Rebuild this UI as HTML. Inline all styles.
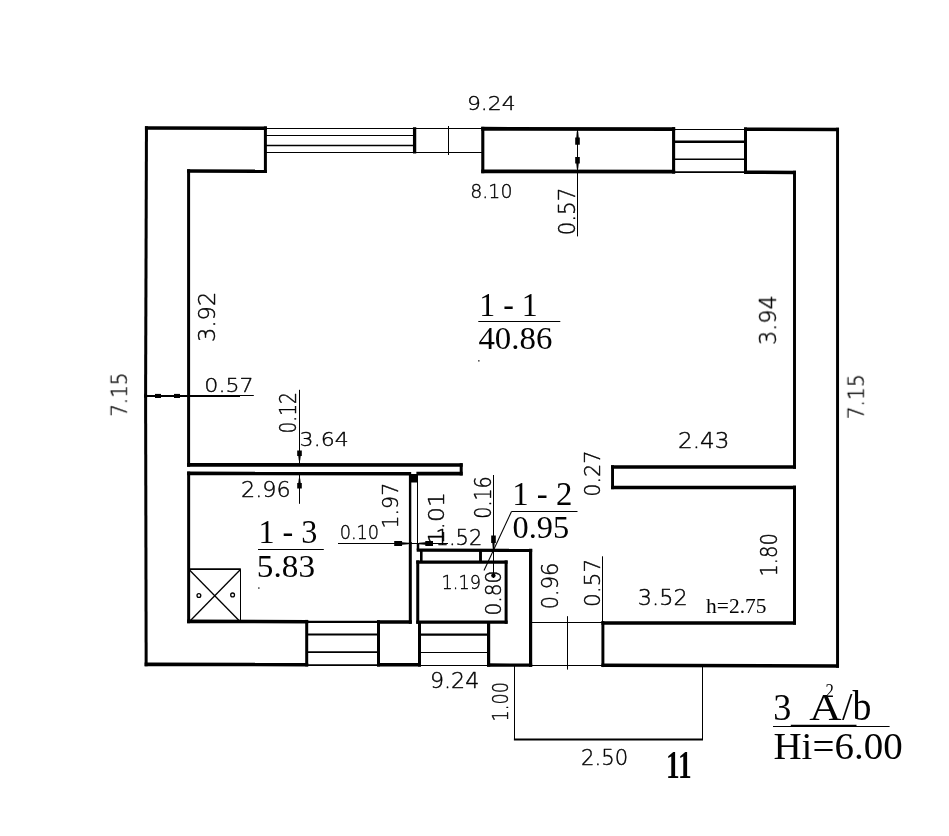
<!DOCTYPE html>
<html><head><meta charset="utf-8"><title>Plan</title>
<style>
html,body{margin:0;padding:0;background:#fff;}
body{width:949px;height:836px;overflow:hidden;}
svg{display:block;}
#walls{stroke:#000;fill:none;stroke-linecap:butt;stroke-linejoin:miter;}
text{fill:#000;stroke:none;}
.sans{font-family:"DejaVu Sans Light","DejaVu Sans","Liberation Sans",sans-serif;font-weight:200;stroke:#000;stroke-width:0.4px;stroke-linejoin:round;}
.serif{font-family:"Liberation Serif","DejaVu Serif",serif;font-weight:400;}
.serifb{font-family:"Liberation Serif","DejaVu Serif",serif;font-weight:700;}
</style></head><body>
<svg width="949" height="836" viewBox="0 0 949 836">
<rect x="0" y="0" width="949" height="836" fill="#fff" stroke="none"/>
<g id="walls">
<line x1="416.40" y1="473.60" x2="462.70" y2="473.60" stroke-width="3.6"/>
<line x1="461.20" y1="475.40" x2="461.20" y2="463.15" stroke-width="3.0"/>
<line x1="462.70" y1="464.95" x2="187.10" y2="464.90" stroke-width="3.6"/>
<line x1="188.60" y1="466.70" x2="188.60" y2="169.25" stroke-width="3.0"/>
<line x1="187.10" y1="171.05" x2="266.90" y2="171.20" stroke-width="3.6"/>
<line x1="265.40" y1="173.00" x2="265.40" y2="126.45" stroke-width="3.0"/>
<line x1="266.90" y1="128.25" x2="144.95" y2="128.00" stroke-width="3.6"/>
<line x1="146.46" y1="126.20" x2="145.59" y2="397.80" stroke-width="3.0"/>
<line x1="145.60" y1="394.20" x2="146.15" y2="666.20" stroke-width="3.0"/>
<line x1="144.65" y1="664.40" x2="308.20" y2="664.60" stroke-width="3.6"/>
<line x1="306.70" y1="666.40" x2="306.70" y2="619.90" stroke-width="3.0"/>
<line x1="308.20" y1="621.70" x2="187.15" y2="621.40" stroke-width="3.6"/>
<line x1="188.65" y1="623.20" x2="188.65" y2="471.60" stroke-width="3.0"/>
<line x1="187.15" y1="473.40" x2="411.20" y2="473.60" stroke-width="3.6"/>
<line x1="410.10" y1="474.00" x2="410.10" y2="543.00" stroke-width="2.4"/>
<line x1="410.30" y1="542.00" x2="410.30" y2="623.80" stroke-width="3.0"/>
<line x1="411.80" y1="622.00" x2="377.00" y2="622.00" stroke-width="3.6"/>
<line x1="378.50" y1="620.20" x2="378.50" y2="666.50" stroke-width="3.0"/>
<line x1="377.00" y1="664.70" x2="421.00" y2="664.80" stroke-width="3.6"/>
<line x1="419.50" y1="666.60" x2="419.50" y2="622.10" stroke-width="3.0"/>
<line x1="481.25" y1="128.75" x2="675.15" y2="129.05" stroke-width="3.8"/>
<line x1="673.60" y1="127.15" x2="673.60" y2="173.60" stroke-width="3.1"/>
<line x1="675.15" y1="171.70" x2="481.25" y2="171.30" stroke-width="3.8"/>
<line x1="482.80" y1="173.20" x2="482.80" y2="126.85" stroke-width="3.1"/>
<line x1="745.50" y1="173.95" x2="745.50" y2="127.45" stroke-width="2.95"/>
<line x1="744.03" y1="129.20" x2="839.02" y2="129.40" stroke-width="3.5"/>
<line x1="837.55" y1="127.65" x2="837.55" y2="667.65" stroke-width="2.95"/>
<line x1="839.02" y1="665.90" x2="601.43" y2="665.30" stroke-width="3.5"/>
<line x1="602.90" y1="667.05" x2="602.90" y2="621.15" stroke-width="2.95"/>
<line x1="601.42" y1="622.90" x2="795.98" y2="622.90" stroke-width="3.5"/>
<line x1="794.50" y1="624.65" x2="794.50" y2="485.65" stroke-width="2.95"/>
<line x1="795.98" y1="487.40" x2="611.07" y2="487.40" stroke-width="3.5"/>
<line x1="612.55" y1="489.15" x2="612.55" y2="465.25" stroke-width="2.95"/>
<line x1="611.07" y1="467.00" x2="795.98" y2="467.00" stroke-width="3.5"/>
<line x1="794.50" y1="468.75" x2="794.50" y2="170.70" stroke-width="2.95"/>
<line x1="795.97" y1="172.46" x2="744.03" y2="172.19" stroke-width="3.5"/>
<line x1="416.70" y1="550.20" x2="532.20" y2="550.40" stroke-width="3.3"/>
<line x1="530.60" y1="548.75" x2="530.60" y2="666.85" stroke-width="3.2"/>
<line x1="532.20" y1="665.21" x2="487.00" y2="664.99" stroke-width="3.3"/>
<line x1="488.60" y1="666.65" x2="488.60" y2="622.10" stroke-width="3.2"/>
<line x1="416.25" y1="562.10" x2="507.60" y2="562.10" stroke-width="3.4"/>
<line x1="506.10" y1="560.40" x2="506.10" y2="623.80" stroke-width="3.0"/>
<line x1="507.60" y1="622.10" x2="416.25" y2="622.10" stroke-width="3.4"/>
<line x1="417.75" y1="623.80" x2="417.75" y2="560.40" stroke-width="3.0"/>
<line x1="418.00" y1="543.00" x2="418.00" y2="550.20" stroke-width="2.5"/>
<line x1="421.30" y1="550.00" x2="421.30" y2="562.00" stroke-width="2.6" />
<line x1="480.50" y1="550.00" x2="480.50" y2="562.00" stroke-width="2.9" />
<line x1="417.50" y1="474.00" x2="417.50" y2="550.00" stroke-width="1" />
<rect x="409" y="474" width="9" height="8.5" fill="#000" stroke="none"/>
<line x1="265.50" y1="128.50" x2="414.50" y2="128.50" stroke-width="1" />
<line x1="265.50" y1="135.50" x2="414.50" y2="135.50" stroke-width="1" />
<line x1="265.50" y1="145.50" x2="414.50" y2="145.50" stroke-width="1.4" />
<line x1="265.50" y1="152.50" x2="414.50" y2="152.50" stroke-width="1" />
<line x1="414.60" y1="127.20" x2="414.60" y2="153.50" stroke-width="3.3" />
<line x1="414.50" y1="128.50" x2="483.00" y2="128.50" stroke-width="1" />
<line x1="414.50" y1="152.50" x2="483.00" y2="152.50" stroke-width="1" />
<line x1="448.50" y1="126.00" x2="448.50" y2="155.00" stroke-width="1" />
<line x1="673.50" y1="129.50" x2="745.50" y2="129.50" stroke-width="1" />
<line x1="673.50" y1="141.75" x2="745.50" y2="141.75" stroke-width="2.3" />
<line x1="673.50" y1="159.30" x2="745.50" y2="159.30" stroke-width="1.6" />
<line x1="673.50" y1="172.10" x2="745.50" y2="172.10" stroke-width="1.8" />
<line x1="306.70" y1="621.80" x2="378.50" y2="621.80" stroke-width="2.2" />
<line x1="306.70" y1="634.50" x2="378.50" y2="634.50" stroke-width="1.8" />
<line x1="306.70" y1="652.20" x2="378.50" y2="652.20" stroke-width="1.8" />
<line x1="306.70" y1="665.20" x2="378.50" y2="665.20" stroke-width="1.8" />
<line x1="419.50" y1="634.70" x2="488.60" y2="634.70" stroke-width="2.2" />
<line x1="419.50" y1="652.50" x2="488.60" y2="652.50" stroke-width="1" />
<line x1="419.50" y1="665.50" x2="488.60" y2="665.50" stroke-width="1" />
<line x1="530.50" y1="622.50" x2="602.90" y2="622.50" stroke-width="1" />
<line x1="530.50" y1="665.50" x2="602.90" y2="665.50" stroke-width="1" />
<line x1="567.50" y1="616.20" x2="567.50" y2="669.60" stroke-width="1" />
<line x1="514.50" y1="666.00" x2="514.50" y2="739.50" stroke-width="1" />
<line x1="513.90" y1="739.50" x2="703.00" y2="739.50" stroke-width="1.8" />
<line x1="702.50" y1="666.00" x2="702.50" y2="739.50" stroke-width="1" />
<line x1="146.30" y1="395.50" x2="253.80" y2="395.50" stroke-width="1" />
<line x1="145.50" y1="395.90" x2="240.00" y2="395.90" stroke-width="2.0" />
<line x1="155.00" y1="395.95" x2="161.00" y2="395.95" stroke-width="4.1" />
<line x1="174.00" y1="395.95" x2="180.00" y2="395.95" stroke-width="4.1" />
<line x1="299.50" y1="389.80" x2="299.50" y2="463.50" stroke-width="1" />
<polygon points="300.20,460.50 300.70,456.00 301.80,456.00 301.80,450.50 297.20,450.50 297.20,456.00 298.30,456.00 298.80,460.50" fill="#000" stroke="none"/>
<line x1="299.50" y1="475.00" x2="299.50" y2="503.80" stroke-width="1" />
<polygon points="298.80,478.50 298.30,483.00 297.20,483.00 297.20,488.50 301.80,488.50 301.80,483.00 300.70,483.00 300.20,478.50" fill="#000" stroke="none"/>
<line x1="577.50" y1="128.00" x2="577.50" y2="236.40" stroke-width="1" />
<polygon points="576.80,131.50 576.30,137.49 575.20,137.49 575.20,144.80 579.80,144.80 579.80,137.49 578.70,137.49 578.20,131.50" fill="#000" stroke="none"/>
<polygon points="578.20,168.80 578.70,163.49 579.80,163.49 579.80,157.00 575.20,157.00 575.20,163.49 576.30,163.49 576.80,168.80" fill="#000" stroke="none"/>
<line x1="338.00" y1="543.50" x2="448.00" y2="543.50" stroke-width="1" />
<polygon points="408.50,542.80 402.06,542.30 402.06,541.00 394.20,541.00 394.20,546.00 402.06,546.00 402.06,544.70 408.50,544.20" fill="#000" stroke="none"/>
<polygon points="419.00,544.20 425.30,544.70 425.30,546.00 433.00,546.00 433.00,541.00 425.30,541.00 425.30,542.30 419.00,542.80" fill="#000" stroke="none"/>
<line x1="493.50" y1="475.00" x2="493.50" y2="578.00" stroke-width="1" />
<polygon points="494.20,549.00 494.70,542.88 495.80,542.88 495.80,535.40 491.20,535.40 491.20,542.88 492.30,542.88 492.80,549.00" fill="#000" stroke="none"/>
<circle cx="493.4" cy="575.5" r="2.2" fill="#000" stroke="none"/>
<line x1="602.50" y1="556.30" x2="602.50" y2="622.00" stroke-width="1" />
<line x1="511.40" y1="511.70" x2="484.00" y2="570.60" stroke-width="1.1" />
<line x1="478.30" y1="321.50" x2="560.30" y2="321.50" stroke-width="1" />
<line x1="258.00" y1="549.50" x2="323.80" y2="549.50" stroke-width="1" />
<line x1="511.30" y1="511.50" x2="577.50" y2="511.50" stroke-width="1" />
<line x1="773.00" y1="726.50" x2="889.60" y2="726.50" stroke-width="1" />
<line x1="790.80" y1="725.40" x2="856.50" y2="725.40" stroke-width="1.5" />
<line x1="188.60" y1="569.20" x2="240.80" y2="569.20" stroke-width="1.7" />
<line x1="240.50" y1="569.20" x2="240.50" y2="622.00" stroke-width="1" />
<line x1="189.50" y1="570.00" x2="240.00" y2="621.50" stroke-width="1.3" />
<line x1="240.00" y1="570.00" x2="189.50" y2="621.50" stroke-width="1.3" />
<circle cx="198.9" cy="595.5" r="1.9" fill="none" stroke-width="1.3"/>
<circle cx="232.6" cy="594.9" r="1.9" fill="none" stroke-width="1.3"/>
<rect x="478.2" y="360.2" width="1.3" height="1.3" fill="#000" stroke="none"/>
<rect x="258.2" y="587.4" width="1.3" height="1.3" fill="#000" stroke="none"/>
</g>
<g id="labels" opacity="0.996">
<text transform="translate(469.00,110.50) scale(1.0962,0.9901)" x="-1.900" y="-0.300" font-size="20" class="sans" >9.24</text>
<text transform="translate(472.00,198.00) scale(0.9486,0.9406)" x="-1.850" y="-0.300" font-size="20" class="sans" >8.10</text>
<text transform="translate(206.25,392.75) scale(1.1084,0.9901)" x="-1.750" y="-0.300" font-size="20" class="sans" >0.57</text>
<text transform="translate(215.50,340.25) rotate(-90) scale(1.1267,1.1056)" x="-1.500" y="-0.300" font-size="20" class="sans" >3.92</text>
<text transform="translate(127.50,415.25) rotate(-90) scale(0.9951,1.0906)" x="-1.600" y="-0.300" font-size="20" class="sans" >7.15</text>
<text transform="translate(296.25,432.00) rotate(-90) scale(0.9314,1.1056)" x="-1.750" y="-0.300" font-size="20" class="sans" >0.12</text>
<text transform="translate(301.25,446.50) scale(1.1037,0.9901)" x="-1.500" y="-0.300" font-size="20" class="sans" >3.64</text>
<text transform="translate(242.50,497.50) scale(1.1158,1.0231)" x="-1.350" y="-0.300" font-size="20" class="sans" >2.96</text>
<text transform="translate(679.50,448.50) scale(1.1557,1.0396)" x="-1.350" y="-0.300" font-size="20" class="sans" >2.43</text>
<text transform="translate(776.50,343.25) rotate(-90) scale(1.1158,1.1221)" x="-1.500" y="-0.300" font-size="20" class="sans" >3.94</text>
<text transform="translate(600.50,495.00) rotate(-90) scale(1.0406,1.0561)" x="-1.750" y="-0.300" font-size="20" class="sans" >0.27</text>
<text transform="translate(864.50,417.75) rotate(-90) scale(1.0135,1.0906)" x="-1.600" y="-0.300" font-size="20" class="sans" >7.15</text>
<text transform="translate(398.00,526.25) rotate(-90) scale(1.0261,1.0561)" x="-2.150" y="-0.300" font-size="20" class="sans" >1.97</text>
<text transform="translate(341.25,539.50) scale(0.8852,0.9571)" x="-1.750" y="-0.300" font-size="20" class="sans" >0.10</text>
<text transform="translate(444.40,542.00) rotate(-90) scale(1.1785,1.1023)" x="-2.150" y="-0.300" font-size="20" class="sans" >1.01</text>
<text transform="translate(437.80,545.30) scale(1.0520,1.0891)" x="-2.150" y="-0.300" font-size="20" class="sans" >1.52</text>
<text transform="translate(491.60,517.00) rotate(-90) scale(0.9525,1.1485)" x="-1.750" y="-0.300" font-size="20" class="sans" >0.16</text>
<text transform="translate(443.50,589.00) scale(0.8856,0.9901)" x="-2.150" y="-0.300" font-size="20" class="sans" >1.19</text>
<text transform="translate(501.25,613.75) rotate(-90) scale(1.0073,1.0726)" x="-1.750" y="-0.300" font-size="20" class="sans" >0.80</text>
<text transform="translate(558.00,607.50) rotate(-90) scale(1.0475,1.1056)" x="-1.750" y="-0.300" font-size="20" class="sans" >0.96</text>
<text transform="translate(600.00,605.00) rotate(-90) scale(1.0776,1.0726)" x="-1.750" y="-0.300" font-size="20" class="sans" >0.57</text>
<text transform="translate(639.50,605.00) scale(1.1206,1.0726)" x="-1.500" y="-0.300" font-size="20" class="sans" >3.52</text>
<text transform="translate(777.50,574.50) rotate(-90) scale(0.9741,1.1551)" x="-2.150" y="-0.300" font-size="20" class="sans" >1.80</text>
<text transform="translate(432.00,688.75) scale(1.1084,1.0396)" x="-1.900" y="-0.300" font-size="20" class="sans" >9.24</text>
<text transform="translate(508.00,719.50) rotate(-90) scale(0.8816,1.0561)" x="-2.150" y="-0.300" font-size="20" class="sans" >1.00</text>
<text transform="translate(582.50,765.00) scale(1.0580,1.0231)" x="-1.350" y="-0.300" font-size="20" class="sans" >2.50</text>
<text transform="translate(575.10,233.50) rotate(-90) scale(1.0714,1.1551)" x="-1.750" y="-0.300" font-size="20" class="sans" >0.57</text>
<text transform="translate(482.00,316.00) scale(1.5950,1.7045)" x="-1.750" y="-0.000" font-size="20" class="serif" >1 - 1</text>
<text transform="translate(479.00,349.75) scale(1.6440,1.6176)" x="-0.350" y="-0.300" font-size="20" class="serif" >40.86</text>
<text transform="translate(261.25,543.25) scale(1.6105,1.6357)" x="-1.750" y="-0.200" font-size="20" class="serif" >1 - 3</text>
<text transform="translate(258.75,577.50) scale(1.6616,1.5625)" x="-1.150" y="-0.300" font-size="20" class="serif" >5.83</text>
<text transform="translate(515.00,505.00) scale(1.6420,1.6604)" x="-1.750" y="-0.000" font-size="20" class="serif" >1 - 2</text>
<text transform="translate(513.75,538.75) scale(1.6194,1.5625)" x="-0.750" y="-0.300" font-size="20" class="serif" >0.95</text>
<text transform="translate(706.25,613.00) scale(1.0740,1.0915)" x="-0.150" y="-0.300" font-size="20" class="serif" >h=2.75</text>
<text transform="translate(668.10,778.00) scale(1.3620,2.0530)" x="-1.600" y="-0.000" font-size="20" class="serifb" >11</text>
<text transform="translate(775.00,720.00) scale(1.8072,1.8959)" x="-0.950" y="-0.200" font-size="20" class="serif" >3</text>
<text transform="translate(809.50,720.00) scale(2.2438,1.9318)" x="-0.150" y="-0.000" font-size="20" class="serif" >A</text>
<text transform="translate(826.25,697.00) scale(0.8385,0.9434)" x="-0.850" y="-0.000" font-size="20" class="serif" >2</text>
<text transform="translate(842.00,720.50) scale(1.8750,2.0522)" x="-0.000" y="-0.200" font-size="20" class="serif" >/</text>
<text transform="translate(852.50,720.30) scale(1.8919,2.0603)" x="-0.000" y="-0.200" font-size="20" class="serif" >b</text>
<text transform="translate(774.50,760.00) scale(1.9500,1.9301)" x="-0.550" y="-0.300" font-size="20" class="serif" >Hi=6.00</text>
</g>
</svg>
</body></html>
